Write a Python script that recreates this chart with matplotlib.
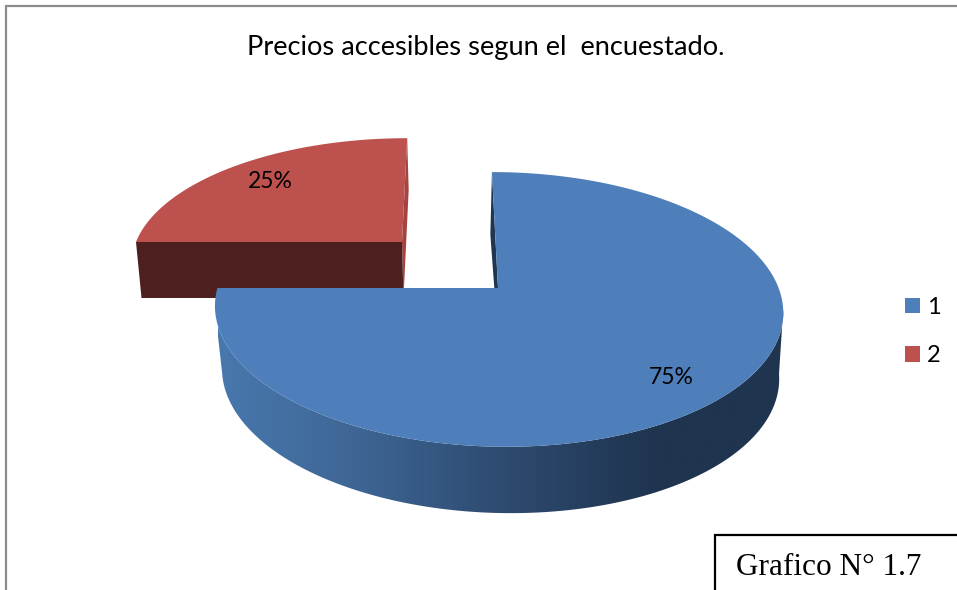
import numpy as np
import matplotlib
matplotlib.use('Agg')
import matplotlib.pyplot as plt
from matplotlib.colors import LinearSegmentedColormap
from matplotlib.patches import Polygon, Rectangle

titulo = 'Precios accesibles segun el  encuestado.'
categorias = ['1', '2']
valores = [75, 25]
etiquetas = ['75%', '25%']
caja_texto = 'Grafico N° 1.7'

# cara superior e inferior de cada porcion: cx, cy, R, k, a (sesgo)
persp = 0.156
azul_top = (498, 288, 280.6, 134, -7)
azul_bot = (499, 352, 275, 136, -10)
rojo_top = (402, 242, 266, 120, 6)
rojo_bot = (403.5, 298, 262, 125, 6)


def borde(cara, t):
    cx, cy, R, k, a = cara
    t = np.radians(t)
    w = 1 + persp * np.sin(t)
    return np.c_[cx + (R * np.cos(t) + a * np.sin(t)) / w, cy - k * np.sin(t) / w]


def centro(cara):
    return np.array([[cara[0], cara[1]]])


# angulos desde las 12 en sentido horario
ang = 90 - np.cumsum([0] + valores) * 360 / sum(valores)
azul_t = np.linspace(ang[0], ang[1], 300)
rojo_t = np.linspace(ang[1] + 360, ang[2] + 360, 100)

fig = plt.figure(figsize=(9.57, 5.9), dpi=100)
ax = fig.add_axes([0, 0, 1, 1])
ax.set_xlim(0, 957)
ax.set_ylim(590, 0)
ax.axis('off')

# marco
ax.plot([6, 6, 957], [590, 6, 6], color='#8c8c8c', lw=1.6, solid_joinstyle='miter')

# porcion roja
ax.add_patch(Polygon(np.vstack([centro(rojo_top), borde(rojo_top, [90]), borde(rojo_bot, [90]), centro(rojo_bot)]),
                     fc='#a5433f', ec='none'))
ax.add_patch(Polygon(np.vstack([centro(rojo_top), borde(rojo_top, [180]), borde(rojo_bot, [180]), centro(rojo_bot)]),
                     fc='#4d1f1e', ec='none'))
ax.add_patch(Polygon(np.vstack([centro(rojo_top), borde(rojo_top, rojo_t)]), fc='#bd514e', ec='none'))

# pared interior azul
ax.add_patch(Polygon(np.vstack([centro(azul_top), borde(azul_top, [90]), borde(azul_bot, [90]), centro(azul_bot)]),
                     fc='#1f3550', ec='none'))

# pared exterior azul con degradado, entre los extremos de las dos caras
t_pared = np.linspace(189, 351, 200)
pared = Polygon(np.vstack([borde(azul_top, t_pared), borde(azul_bot, t_pared[::-1])]), fc='none', ec='none')
ax.add_patch(pared)
cmap = LinearSegmentedColormap.from_list('pared', [(0, '#4878ae'), (0.23, '#3f6796'), (0.48, '#2f4d73'),
                                                   (0.77, '#1f344f'), (1, '#1f344f')])
img = ax.imshow(np.linspace(0, 1, 256).reshape(1, -1), cmap=cmap, extent=(218, 785, 520, 280),
                aspect='auto', zorder=1.5)
img.set_clip_path(pared)
ax.set_xlim(0, 957)
ax.set_ylim(590, 0)

# cara superior azul
ax.add_patch(Polygon(np.vstack([centro(azul_top), borde(azul_top, azul_t)]), fc='#4e7fbb', ec='none', zorder=2))

ax.text(671, 377, etiquetas[0], fontsize=16.5, family='Lato', ha='center', va='center', zorder=3)
ax.text(270, 181, etiquetas[1], fontsize=16.5, family='Lato', ha='center', va='center', zorder=3)
ax.text(485.5, 48, titulo, fontsize=19.6, family='Lato', ha='center', va='center', zorder=3)

# leyenda
handles = [Rectangle((0, 0), 1, 1, fc='#4e7fbb'), Rectangle((0, 0), 1, 1, fc='#bd514e')]
ax.legend(handles, categorias, loc='center left', bbox_to_anchor=(893 / 957, 1 - 331.5 / 590), frameon=False,
          prop={'family': 'Lato', 'size': 17}, handlelength=0.64, handleheight=0.64, handletextpad=0.3,
          labelspacing=1.16, borderpad=0, borderaxespad=0.5)

# caja del numero de grafico
ax.plot([715, 715, 957], [590, 535, 535], color='black', lw=1.6, solid_joinstyle='miter', zorder=3)
ax.text(736, 575, caja_texto, fontsize=22.5, family='Liberation Serif', ha='left', va='baseline', zorder=3)

fig.savefig('out.png', dpi=100)
